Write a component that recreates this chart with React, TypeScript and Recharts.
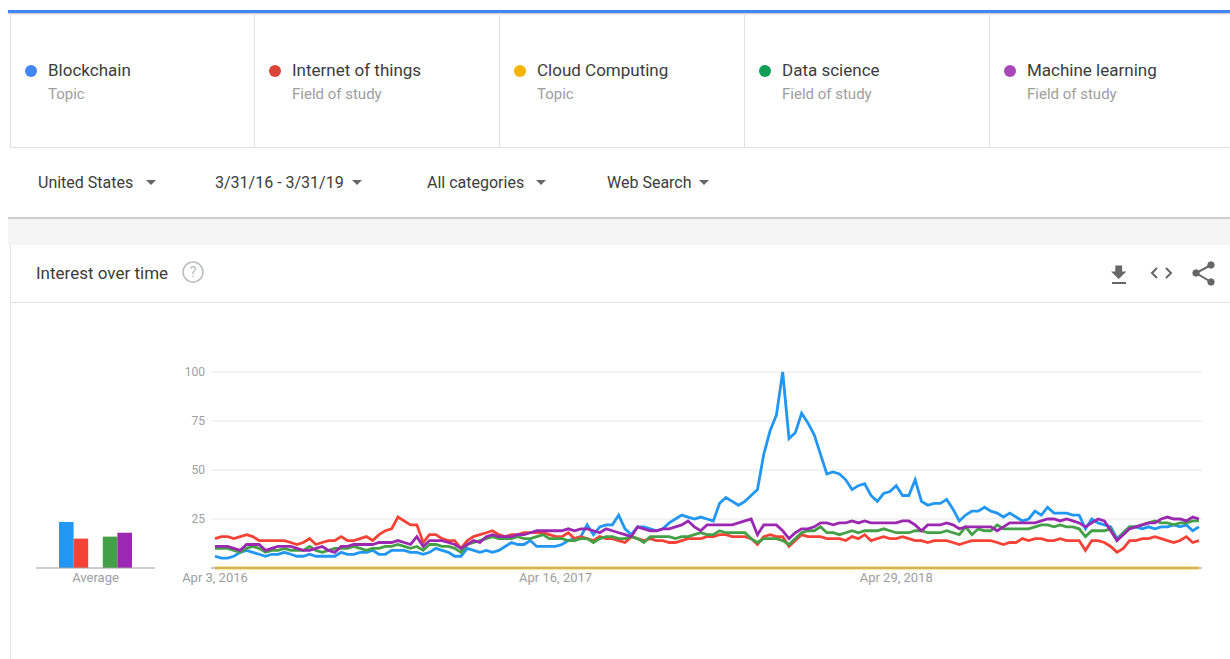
import { LineChart, Line, BarChart, Bar, XAxis, YAxis, CartesianGrid } from 'recharts';

// weekly interest, Apr 3 2016 .. Mar 31 2019 (157 weeks)
const blockchain = [
  6, 5, 5, 6, 8, 9, 8, 7, 6, 7,
  7, 8, 7, 6, 6, 7, 6, 6, 6, 6,
  8, 7, 7, 8, 8, 9, 7, 7, 9, 9,
  9, 8, 8, 7, 8, 10, 9, 8, 6, 6,
  10, 9, 8, 9, 8, 9, 11, 13, 12, 12,
  14, 11, 11, 11, 11, 12, 14, 15, 16, 22,
  17, 21, 22, 22, 27, 20, 17, 21, 21, 20,
  19, 20, 23, 25, 27, 26, 25, 26, 25, 24,
  33, 36, 34, 32, 34, 37, 40, 58, 70, 78,
  100, 66, 69, 79, 74, 68, 58, 48, 49, 48,
  45, 40, 42, 43, 37, 34, 38, 39, 42, 37,
  37, 45, 34, 32, 33, 33, 35, 30, 24, 27,
  29, 29, 31, 29, 28, 26, 28, 26, 24, 25,
  29, 27, 31, 28, 28, 28, 27, 27, 20, 25,
  23, 22, 21, 15, 18, 21, 21, 20, 21, 20,
  21, 21, 22, 21, 22, 19, 21,
];

const internetOfThings = [
  15, 16, 16, 15, 16, 17, 16, 14, 14, 14,
  14, 14, 13, 12, 13, 15, 12, 13, 14, 14,
  16, 14, 14, 15, 16, 14, 17, 19, 20, 26,
  24, 22, 22, 13, 17, 17, 15, 14, 14, 10,
  14, 16, 17, 18, 19, 17, 16, 17, 17, 18,
  18, 18, 18, 17, 16, 16, 18, 15, 16, 15,
  14, 16, 15, 15, 14, 13, 16, 15, 14, 15,
  14, 14, 13, 13, 14, 15, 15, 15, 16, 16,
  17, 17, 16, 16, 16, 15, 12, 16, 17, 16,
  16, 11, 14, 17, 16, 16, 16, 15, 15, 15,
  14, 16, 15, 17, 14, 15, 16, 15, 15, 16,
  15, 14, 14, 13, 14, 14, 14, 13, 12, 13,
  14, 14, 14, 14, 13, 12, 13, 13, 15, 14,
  15, 15, 14, 14, 15, 14, 14, 14, 9, 14,
  14, 13, 11, 8, 10, 14, 14, 15, 15, 16,
  15, 14, 13, 14, 16, 13, 14,
];

const cloudComputing = [
  0, 0, 0, 0, 0, 0, 0, 0, 0, 0, 0, 0, 0, 0, 0, 0, 0, 0, 0, 0,
  0, 0, 0, 0, 0, 0, 0, 0, 0, 0, 0, 0, 0, 0, 0, 0, 0, 0, 0, 0,
  0, 0, 0, 0, 0, 0, 0, 0, 0, 0, 0, 0, 0, 0, 0, 0, 0, 0, 0, 0,
  0, 0, 0, 0, 0, 0, 0, 0, 0, 0, 0, 0, 0, 0, 0, 0, 0, 0, 0, 0,
  0, 0, 0, 0, 0, 0, 0, 0, 0, 0, 0, 0, 0, 0, 0, 0, 0, 0, 0, 0,
  0, 0, 0, 0, 0, 0, 0, 0, 0, 0, 0, 0, 0, 0, 0, 0, 0, 0, 0, 0,
  0, 0, 0, 0, 0, 0, 0, 0, 0, 0, 0, 0, 0, 0, 0, 0, 0, 0, 0, 0,
  0, 0, 0, 0, 0, 0, 0, 0, 0, 0, 0, 0, 0, 0, 0, 0, 0,
];

const dataScience = [
  10, 10, 10, 9, 8, 10, 11, 10, 8, 9,
  9, 10, 9, 9, 9, 11, 9, 8, 9, 10,
  10, 10, 11, 10, 9, 10, 10, 11, 11, 12,
  11, 10, 11, 9, 12, 12, 11, 11, 10, 8,
  12, 13, 14, 15, 16, 15, 15, 15, 16, 15,
  15, 16, 17, 15, 15, 15, 14, 14, 15, 15,
  13, 15, 16, 16, 15, 15, 16, 15, 13, 16,
  16, 16, 16, 15, 16, 16, 17, 18, 17, 17,
  19, 18, 18, 18, 18, 15, 13, 15, 15, 15,
  14, 12, 15, 18, 19, 19, 21, 18, 18, 17,
  18, 19, 18, 19, 19, 19, 20, 19, 18, 18,
  18, 19, 19, 18, 18, 18, 19, 18, 17, 21,
  17, 20, 19, 19, 22, 20, 20, 20, 20, 20,
  21, 22, 22, 21, 22, 21, 21, 20, 16, 19,
  19, 19, 20, 14, 18, 21, 21, 22, 23, 24,
  23, 23, 22, 23, 23, 24, 24,
];

const machineLearning = [
  11, 11, 11, 10, 9, 12, 12, 12, 9, 10,
  11, 11, 11, 10, 9, 9, 10, 11, 9, 8,
  11, 11, 12, 12, 12, 12, 13, 13, 13, 14,
  13, 12, 16, 11, 14, 14, 14, 13, 12, 10,
  12, 14, 13, 16, 17, 16, 16, 16, 17, 17,
  18, 19, 19, 19, 19, 19, 20, 19, 20, 20,
  19, 18, 20, 19, 18, 17, 16, 21, 20, 19,
  19, 20, 20, 21, 22, 24, 21, 19, 22, 22,
  22, 22, 22, 23, 24, 25, 17, 22, 22, 22,
  19, 15, 18, 20, 20, 21, 23, 23, 22, 23,
  23, 24, 23, 24, 23, 23, 23, 23, 23, 24,
  24, 22, 19, 22, 22, 22, 23, 22, 20, 21,
  21, 21, 21, 21, 19, 21, 23, 23, 23, 23,
  23, 24, 25, 25, 24, 25, 24, 23, 21, 23,
  25, 24, 19, 14, 17, 20, 21, 22, 23, 23,
  25, 26, 25, 25, 24, 26, 25,
];

const averages = [23.5, 15, 0, 16, 18];

const termNames = ['Blockchain', 'Internet of things', 'Cloud Computing', 'Data science', 'Machine learning'];
const termTypes = ['Topic', 'Field of study', 'Topic', 'Field of study', 'Field of study'];
const dotColors = ['#4285f4', '#db4437', '#f4b400', '#0f9d58', '#ab47bc'];
const lineColors = ['#2196f3', '#f44336', '#ffca28', '#43a047', '#9c27b0'];

const xTickWeeks = [0, 54, 108];
const xTickLabels = ['Apr 3, 2016', 'Apr 16, 2017', 'Apr 29, 2018'];
const yTicks = [0, 25, 50, 75, 100];

const filters = ['United States', '3/31/16 - 3/31/19', 'All categories', 'Web Search'];
const filterX = [38, 215, 427, 607];
const arrowX = [151, 357, 541, 704];

const series = [blockchain, internetOfThings, cloudComputing, dataScience, machineLearning];
const keys = ['blockchain', 'iot', 'cloud', 'ds', 'ml'];

const rows = blockchain.map((_, i) => {
  const r: any = { week: i };
  keys.forEach((k, s) => { r[k] = series[s][i]; });
  return r;
});

const avgRow: any = { name: 'Average' };
keys.forEach((k, s) => { avgRow[k] = averages[s]; });

const font = 'Roboto, Arial, sans-serif';

function Arrow({ x, y }: { x: number; y: number }) {
  return (
    <svg style={{ position: 'absolute', left: x - 5, top: y - 3 }} width={10} height={6}>
      <path d="M0 0 L10 0 L5 5 Z" fill="#666" />
    </svg>
  );
}

function Icons() {
  return (
    <svg style={{ position: 'absolute', left: 1100, top: 258 }} width={130} height={32}>
      {/* download */}
      <path d="M15 7 h8 v7 h5 l-9 9 l-9 -9 h5 z" fill="#666" transform="translate(0,-1) scale(0.85) translate(3,3)" />
      <rect x={12} y={24} width={14} height={2} fill="#666" />
      {/* embed */}
      <path d="M57 10 l-5 5 l5 5 M66 10 l5 5 l-5 5" stroke="#666" strokeWidth={2} fill="none" />
      {/* share */}
      <g fill="#666" stroke="#666">
        <circle cx={111} cy={7} r={3.2} />
        <circle cx={96} cy={15} r={3.2} />
        <circle cx={111} cy={24} r={3.2} />
        <path d="M111 7 L96 15 L111 24" strokeWidth={2} fill="none" />
      </g>
    </svg>
  );
}

export default function App() {
  return (
    <div style={{ position: 'absolute', left: 0, top: 0, width: 1230, height: 659, overflow: 'hidden', background: '#fff', fontFamily: font }}>
      <div style={{ position: 'absolute', left: 8, top: 10, width: 1222, height: 3, background: '#4285f4', boxShadow: '0 1px 2px rgba(0,0,0,0.25)' }} />
      {termNames.map((t, i) => (
        <div key={t} style={{ position: 'absolute', left: 10 + i * 245, top: 13, width: 245, height: 135, borderLeft: i === 0 ? '1px solid #e0e0e0' : 'none', borderRight: '1px solid #e0e0e0', borderBottom: '1px solid #e0e0e0', boxSizing: 'border-box' }}>
          <div style={{ position: 'absolute', left: 14, top: 52, width: 12, height: 12, borderRadius: 6, background: dotColors[i] }} />
          <div style={{ position: 'absolute', left: 37, top: 47, fontSize: 17, lineHeight: '20px', color: '#3c3c3c' }}>{t}</div>
          <div style={{ position: 'absolute', left: 37, top: 73, fontSize: 15, lineHeight: '16px', color: '#9e9e9e' }}>{termTypes[i]}</div>
        </div>
      ))}
      {filters.map((f, i) => (
        <div key={f} style={{ position: 'absolute', left: filterX[i], top: 174, fontSize: 16, lineHeight: '18px', color: '#3c3c3c' }}>{f}</div>
      ))}
      {arrowX.map((x) => <Arrow key={x} x={x} y={183} />)}
      <div style={{ position: 'absolute', left: 8, top: 217, width: 1222, height: 28, background: '#f5f5f5', borderTop: '2px solid #cfcfcf', boxSizing: 'border-box' }} />
      <div style={{ position: 'absolute', left: 10, top: 245, width: 1220, height: 414, borderLeft: '1px solid #e6e6e6', background: '#fff', boxSizing: 'border-box' }} />
      <div style={{ position: 'absolute', left: 36, top: 263, fontSize: 17, lineHeight: '20px', color: '#3c3c3c' }}>Interest over time</div>
      <svg style={{ position: 'absolute', left: 181, top: 260 }} width={24} height={24}>
        <circle cx={12} cy={12} r={10} fill="none" stroke="#bbb" strokeWidth={1.5} />
        <text x={12} y={17} textAnchor="middle" fontSize={14} fill="#bbb" fontFamily={font}>?</text>
      </svg>
      <Icons />
      <div style={{ position: 'absolute', left: 10, top: 302, width: 1220, height: 1, background: '#e0e0e0' }} />

      <div style={{ position: 'absolute', left: 0, top: 340 }}>
        <BarChart width={170} height={258} data={[avgRow]} margin={{ top: 32, right: 15, left: 36, bottom: 0 }} barGap={0}>
          <YAxis hide domain={[0, 100]} />
          <XAxis dataKey="name" height={30} tickLine={false} tickSize={0} tickMargin={5} axisLine={{ stroke: '#9e9e9e' }} tick={{ fill: '#9e9e9e', fontSize: 13, fontFamily: font }} />
          {keys.map((k, s) => (
            <Bar key={k} dataKey={k} fill={lineColors[s]} barSize={14.6} isAnimationActive={false} />
          ))}
        </BarChart>
      </div>

      <div style={{ position: 'absolute', left: 0, top: 340 }}>
        <LineChart width={1230} height={258} data={rows} margin={{ top: 32, right: 28, left: 171, bottom: 0 }}>
          <CartesianGrid vertical={false} stroke="#e6e6e6" />
          <XAxis
            dataKey="week"
            type="number"
            domain={[0, 156]}
            ticks={xTickWeeks}
            tickFormatter={(v: number) => xTickLabels[xTickWeeks.indexOf(v)]}
            padding={{ left: 4, right: 3 }}
            height={30}
            tickLine={false}
            tickSize={0}
            tickMargin={5}
            axisLine={{ stroke: '#9e9e9e' }}
            tick={{ fill: '#9e9e9e', fontSize: 13, fontFamily: font }}
          />
          <YAxis
            width={40}
            domain={[0, 100]}
            ticks={yTicks}
            tickFormatter={(v: number) => (v === 0 ? '' : String(v))}
            axisLine={false}
            tickLine={false}
            tickSize={0}
            tickMargin={6}
            tick={{ fill: '#9e9e9e', fontSize: 12, fontFamily: font }}
          />
          {keys.map((k, s) => (
            <Line key={k} dataKey={k} type="linear" stroke={lineColors[s]} strokeWidth={2.8} dot={false} isAnimationActive={false} />
          ))}
        </LineChart>
      </div>
    </div>
  );
}
